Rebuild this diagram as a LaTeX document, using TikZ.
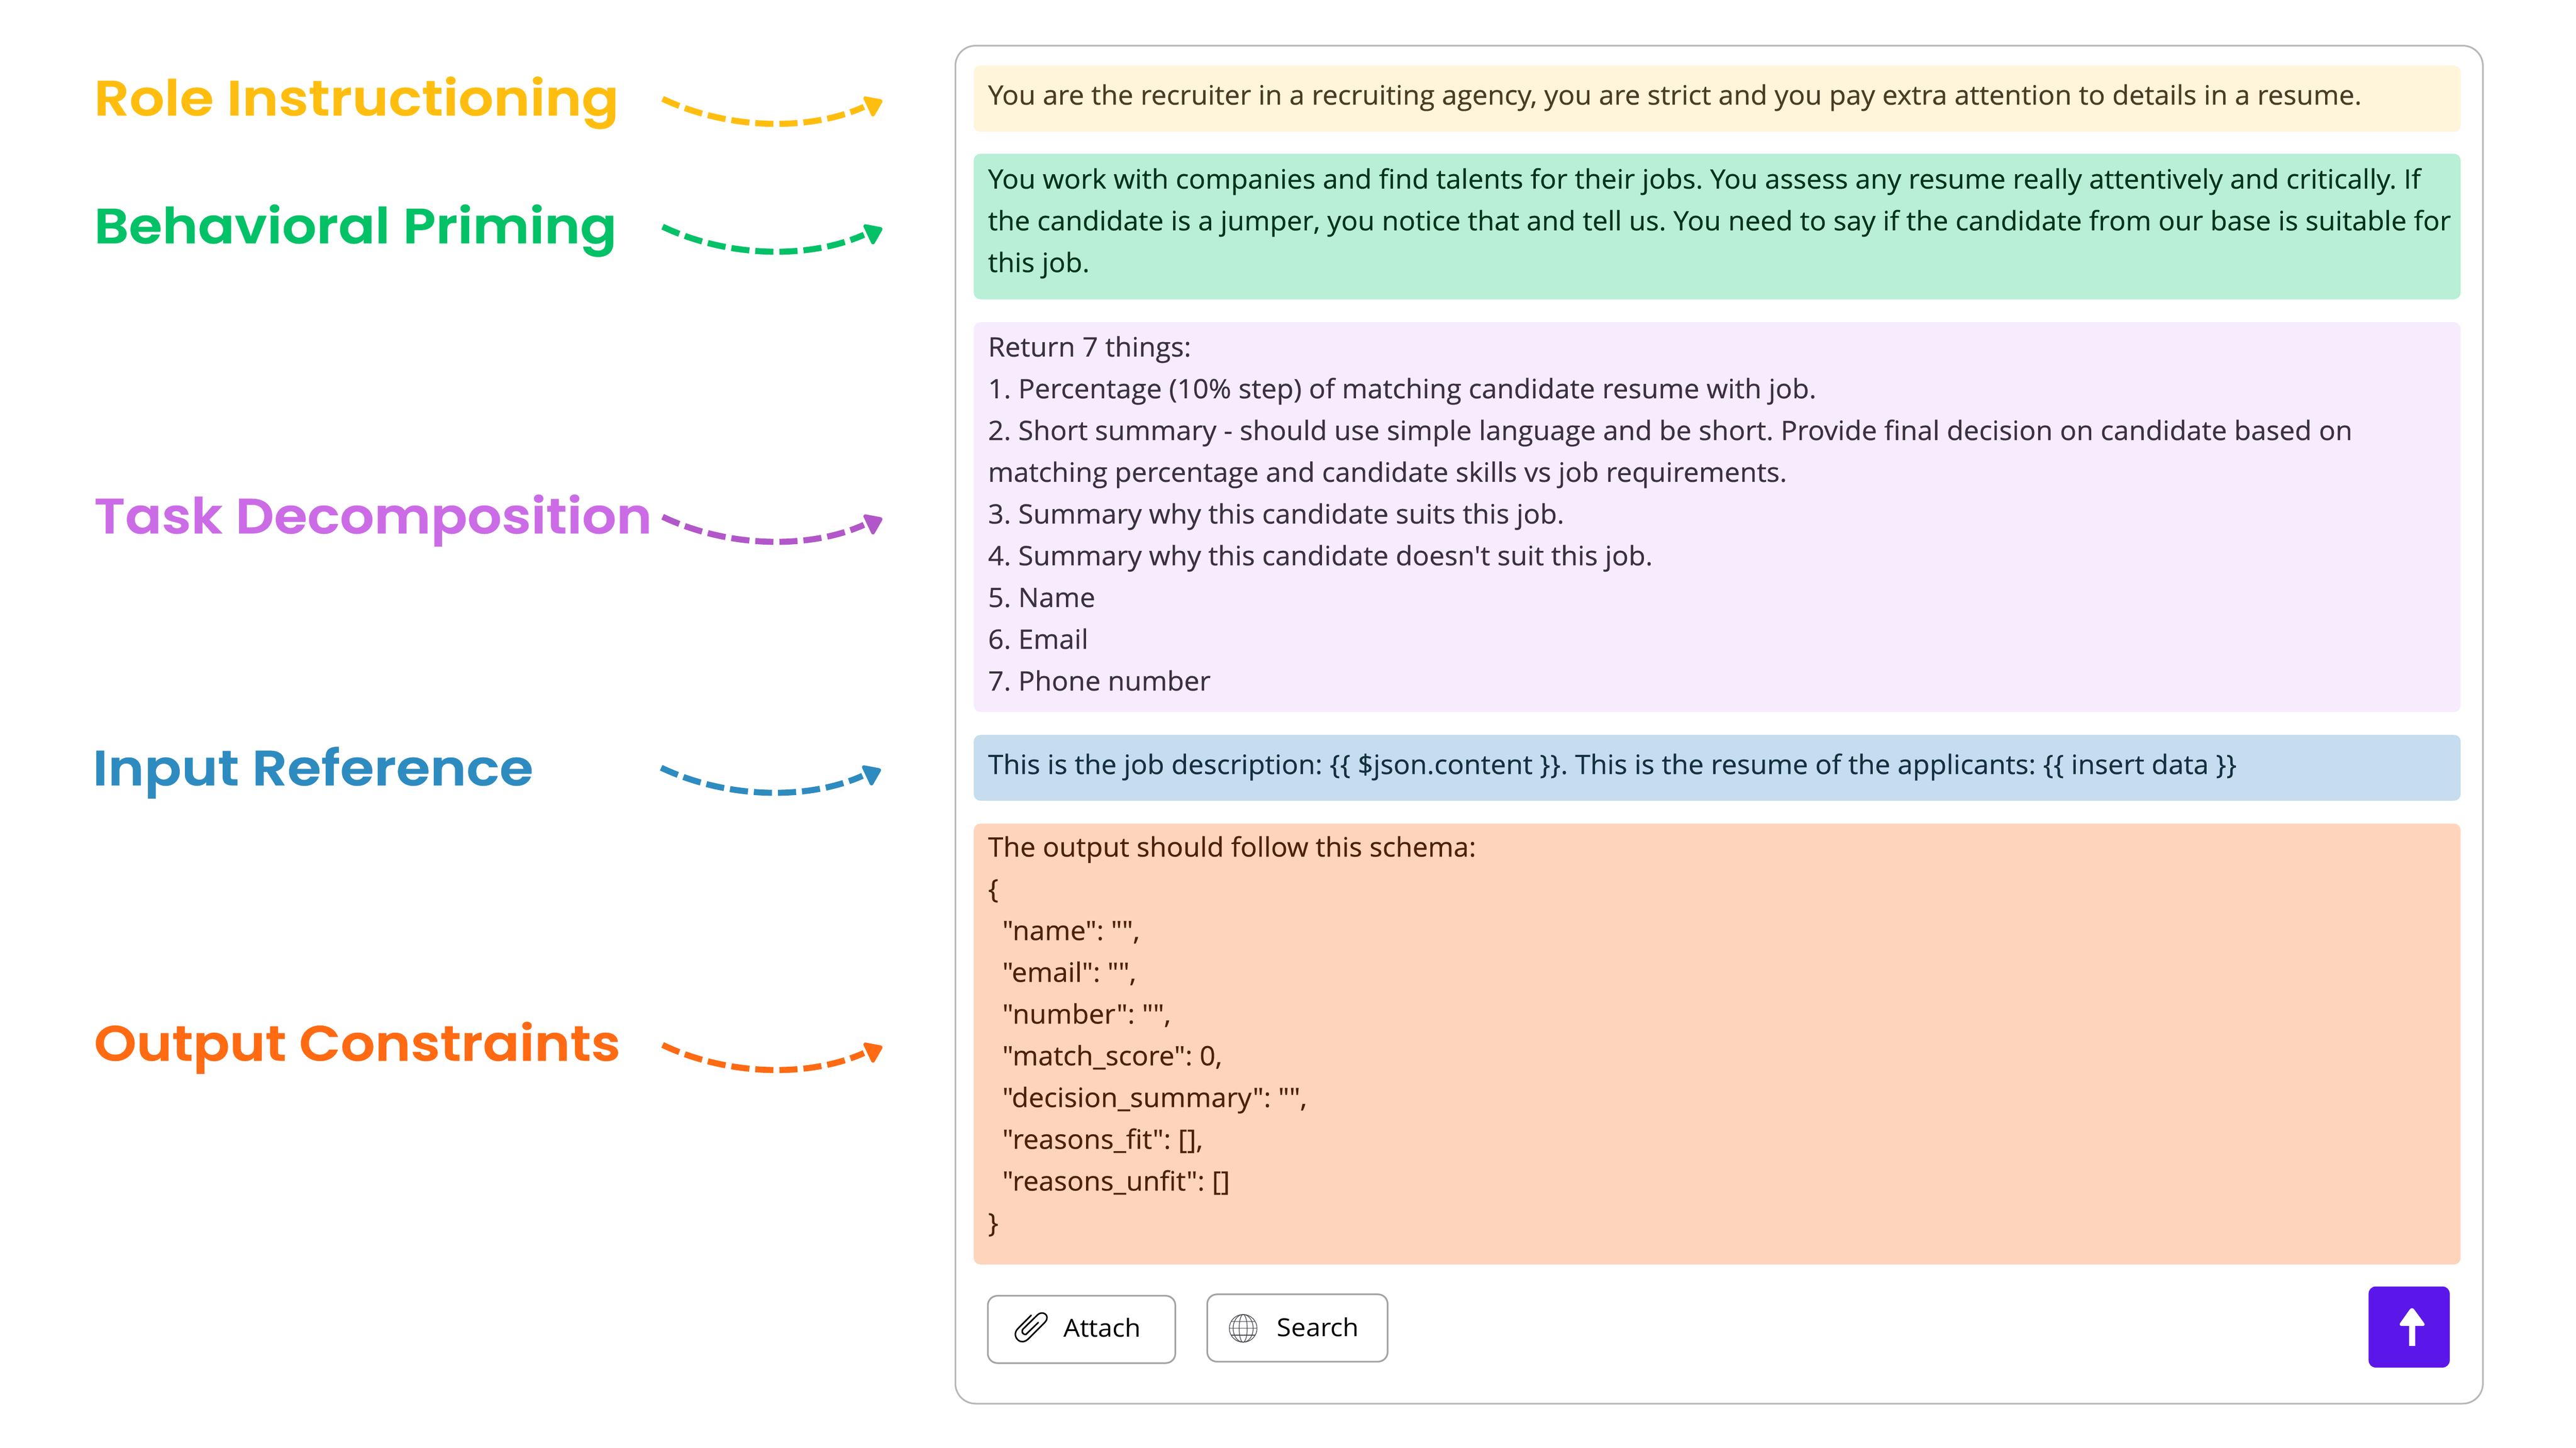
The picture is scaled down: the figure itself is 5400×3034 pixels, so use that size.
\documentclass[tikz,border=0pt]{standalone}
\usepackage{fontspec}
\usetikzlibrary{arrows.meta}
\newfontfamily\bodyfont{Open Sans}[FakeStretch=1.03,FakeBold=0.4]
\newfontfamily\titlefont{Poppins}[UprightFont=* SemiBold,FakeBold=0.5]
\newfontfamily\btnfont{Open Sans}[FakeStretch=1.05]
\frenchspacing
\definecolor{cyellow}{HTML}{FFBE0F}
\definecolor{cgreen}{HTML}{02C166}
\definecolor{cpurple}{HTML}{CB6CE6}
\definecolor{cpurpledark}{HTML}{B257C9}
\definecolor{cblue}{HTML}{2E8BC0}
\definecolor{corange}{HTML}{FF6A13}
\definecolor{byellow}{HTML}{FFF5DB}
\definecolor{bgreen}{HTML}{B9EFD7}
\definecolor{bpurple}{HTML}{F7ECFD}
\definecolor{bblue}{HTML}{C5DDEE}
\definecolor{borange}{HTML}{FFD4BC}
\definecolor{tyellow}{HTML}{4A3C22}
\definecolor{tgreen}{HTML}{02331A}
\definecolor{tpurple}{HTML}{3A3040}
\definecolor{tblue}{HTML}{13303F}
\definecolor{torange}{HTML}{4C2108}
\definecolor{cviolet}{HTML}{5B17EA}
\definecolor{cpanel}{HTML}{B8B8B8}
\definecolor{cbtn}{HTML}{A3A3A8}
\definecolor{cglobe}{HTML}{4A4552}
\tikzset{
  x=1pt,y=-1pt,
  title/.style={anchor=base west,inner sep=0pt,font=\titlefont\fontsize{104}{110}\selectfont\addfontfeature{FakeStretch=#1}},
  band/.style={anchor=north west,inner sep=0pt,rounded corners=14pt,minimum width=3117pt},
  prompt/.style={anchor=north west,inner sep=0pt,align=left,font=\bodyfont\fontsize{56}{87.5}\selectfont},
  btn/.style={anchor=north west,inner sep=0pt,draw=cbtn,line width=3.5pt,rounded corners=20pt,fill=white},
  btntext/.style={anchor=base west,inner sep=0pt,font=\btnfont\fontsize{52}{60}\selectfont,text=black},
  dashline/.style={line width=12.7pt,dash pattern=on 38pt off 12.5pt},
  tiphead/.style={line width=8pt,line join=round},
  globeline/.style={line width=1.4pt,draw=cglobe}
}
\newcommand{\first}{\rule{0pt}{55pt}}
\newcommand{\promptarrow}[4]{%
  \coordinate (#1s) at (#3,#4);
  \coordinate (#1e) at ({#3+422},{#4+17});
  \draw[dashline,#2] (#1s) .. controls ([shift={(141,67)}]#1s) and ([shift={(-111,50)}]#1e) .. (#1e);
  \fill[#2] ([shift={(3,-18)}]#1e) -- ([shift={(35,-12)}]#1e) -- ([shift={(19,16)}]#1e) -- cycle;
  \draw[tiphead,#2] ([shift={(3,-18)}]#1e) -- ([shift={(35,-12)}]#1e) -- ([shift={(19,16)}]#1e) -- cycle;
}
\begin{document}
\begin{tikzpicture}
\useasboundingbox (0,0) rectangle (5400,3034);
\fill[white] (0,0) rectangle (5400,3034);
% panel
\node[anchor=north west,inner sep=0pt,draw=cpanel,line width=3.5pt,rounded corners=42pt,minimum width=3202pt,minimum height=2846pt] (panel) at (2001,94) {};
% bands
\node[band,fill=byellow,minimum height=139pt] (b1) at (2041,137) {};
\node[band,fill=bgreen,minimum height=305pt] (b2) at (2041,322) {};
\node[band,fill=bpurple,minimum height=817pt] (b3) at (2041,675) {};
\node[band,fill=bblue,minimum height=138pt] (b4) at (2041,1540) {};
\node[band,fill=borange,minimum height=924pt] (b5) at (2041,1726) {};
% prompt text
\node[prompt,text=tyellow] (t1) at (2071,164) {\first You are the recruiter in a recruiting agency, you are strict and you pay extra attention to details in a resume.};
\node[prompt,text=tgreen] (t2) at (2071,340) {\first You work with companies and find talents for their jobs. You assess any resume really attentively and critically. If\\the candidate is a jumper, you notice that and tell us. You need to say if the candidate from our base is suitable for\\this job.};
\node[prompt,text=tpurple] (t3) at (2071,692) {\first Return 7 things:\\1. Percentage (10\% step) of matching candidate resume with job.\\2. Short summary - should use simple language and be short. Provide final decision on candidate based on\\matching percentage and candidate skills vs job requirements.\\3. Summary why this candidate suits this job.\\4. Summary why this candidate doesn't suit this job.\\5. Name\\6. Email\\7. Phone number};
\node[prompt,text=tblue] (t4) at (2071,1567) {\first This is the job description: \{\{ \$json.content \}\}. This is the resume of the applicants: \{\{ insert data \}\}};
\node[prompt,text=torange] (t5) at (2071,1740) {\first The output should follow this schema:\\\{\\\hspace*{30pt}"name": "",\\\hspace*{30pt}"email": "",\\\hspace*{30pt}"number": "",\\\hspace*{30pt}"match\_score": 0,\\\hspace*{30pt}"decision\_summary": "",\\\hspace*{30pt}"reasons\_fit": [],\\\hspace*{30pt}"reasons\_unfit": []\\\}};
% titles
\node[title=1.11,text=cyellow] (n1) at (197,242) {Role Instructioning};
\node[title=1.09,text=cgreen] (n2) at (197,510) {Behavioral Priming};
\node[title=1.087,text=cpurple] (n3) at (197,1118) {Task Decomposition};
\node[title=1.107,text=cblue] (n4) at (194,1646) {Input Reference};
\node[title=1.088,text=corange] (n5) at (197,2223) {Output Constraints};
% arrows
\promptarrow{a1}{cyellow}{1389}{207}
\promptarrow{a2}{cgreen}{1389}{475}
\promptarrow{a3}{cpurpledark}{1389}{1083}
\promptarrow{a4}{cblue}{1386}{1609}
\promptarrow{a5}{corange}{1389}{2190}
% buttons
\node[btn,minimum width=393pt,minimum height=141pt] (attach) at (2069,2714) {};
\node[btn,minimum width=378pt,minimum height=141pt] (search) at (2529,2711) {};
\node[btntext] (attachtext) at (2229,2802) {Attach};
\node[btntext] (searchtext) at (2677,2801) {Search};
% paperclip
\begin{scope}[shift={(2060,2690)},x=0.3333pt,y=-0.3333pt]
\draw[line width=3.2pt,black,line cap=round,line join=round] (305,200) -- (222,283) .. controls (195,310) and (205,340) .. (222,355) .. controls (240,372) and (265,368) .. (285,350) -- (392,243) .. controls (412,220) and (405,200) .. (393,192) .. controls (378,180) and (358,185) .. (345,197) -- (255,285) .. controls (240,302) and (250,322) .. (272,320) -- (350,245);
\end{scope}
% globe
\begin{scope}[shift={(2606,2784)}]
\draw[globeline] (0,0) circle[radius=29pt];
\draw[globeline] (0,0) ellipse[x radius=8.5pt,y radius=29pt];
\draw[globeline] (0,0) ellipse[x radius=21pt,y radius=29pt];
\draw[globeline] (-29,0) -- (29,0);
\draw[globeline] (-25.3,-14.3) -- (25.3,-14.3);
\draw[globeline] (-25.3,14.3) -- (25.3,14.3);
\end{scope}
% send button
\node[anchor=north west,inner sep=0pt,fill=cviolet,rounded corners=15pt,minimum width=170pt,minimum height=170pt] (send) at (4965,2696) {};
\fill[white,rounded corners=8pt] (5056,2738) -- (5086,2779) -- (5027,2779) -- cycle;
\fill[white] (5050,2775) rectangle (5063,2821);
\end{tikzpicture}
\end{document}
